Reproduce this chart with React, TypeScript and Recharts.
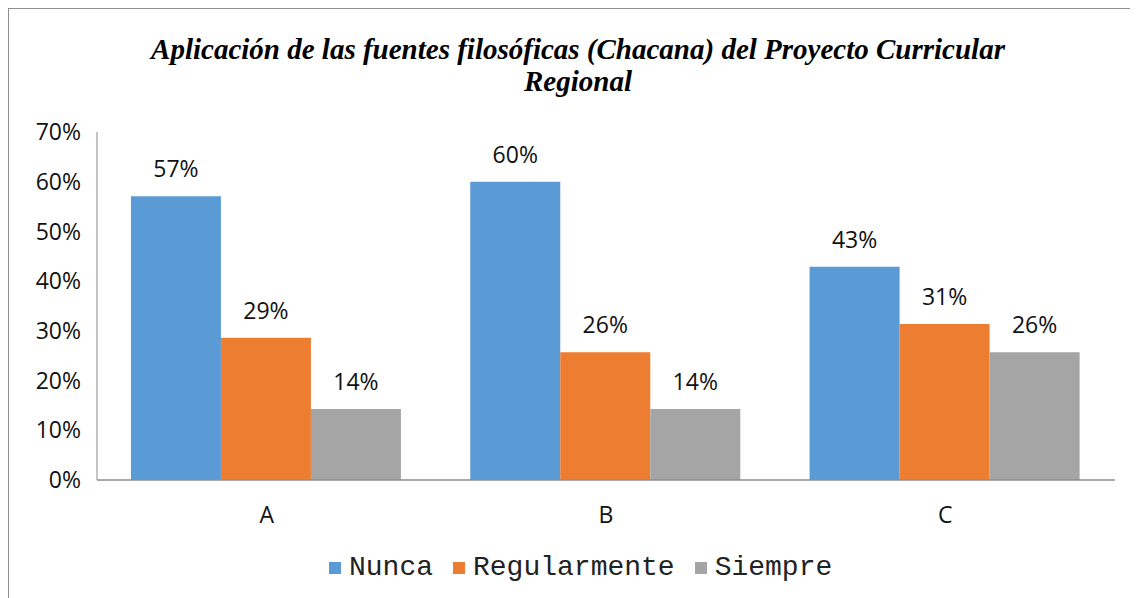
import { BarChart, Bar, XAxis, YAxis, LabelList } from "recharts";

const categories = ["A", "B", "C"];
const nunca = [57.1, 60.0, 42.9];
const regularmente = [28.6, 25.7, 31.4];
const siempre = [14.3, 14.3, 25.7];
const yTicks = [0, 10, 20, 30, 40, 50, 60, 70];

const series = [
  { key: "nunca", name: "Nunca", color: "#5B9BD5" },
  { key: "regularmente", name: "Regularmente", color: "#ED7D31" },
  { key: "siempre", name: "Siempre", color: "#A5A5A5" },
];

const data = categories.map((c, i) => ({
  category: c,
  nunca: nunca[i],
  regularmente: regularmente[i],
  siempre: siempre[i],
}));

const labelFont = "'Open Sans', 'Noto Sans', sans-serif";

export default function App() {
  return (
    <div style={{ position: "relative", width: 1129, height: 589, borderTop: "1px solid #8f8f8f", borderLeft: "1px solid #8f8f8f", background: "#fff" }}>
      <div
        style={{
          position: "absolute",
          left: 0,
          top: 24,
          width: 1138,
          textAlign: "center",
          fontFamily: "Liberation Serif",
          fontStyle: "italic",
          fontWeight: "bold",
          fontSize: 29,
          lineHeight: "32px",
          color: "#000",
        }}
      >
        Aplicación de las fuentes filosóficas (Chacana) del Proyecto Curricular
        <br />
        Regional
      </div>
      <BarChart
        width={1129}
        height={589}
        data={data}
        margin={{ top: 123, right: 23, bottom: 88, left: 0 }}
        barCategoryGap="10%"
        barGap={0}
      >
        <XAxis
          dataKey="category"
          height={30}
          axisLine={{ stroke: "#8c8c8c", strokeWidth: 1.5 }}
          tickLine={false}
          tickSize={0}
          tickMargin={27}
          tick={{ fill: "#111", fontSize: 23, fontFamily: labelFont }}
        />
        <YAxis
          width={88}
          domain={[0, 70]}
          ticks={yTicks}
          interval={0}
          tickFormatter={(v) => `${v}%`}
          axisLine={{ stroke: "#b0b0b0", strokeWidth: 1.5 }}
          tickLine={false}
          tickSize={0}
          tickMargin={16}
          tick={{ fill: "#111", fontSize: 23, fontFamily: labelFont }}
        />
        {series.map((s) => (
          <Bar key={s.key} dataKey={s.key} name={s.name} fill={s.color} isAnimationActive={false}>
            <LabelList
              dataKey={s.key}
              position="top"
              offset={19}
              formatter={(v: number) => `${Math.round(v)}%`}
              style={{ fill: "#111", fontSize: 23, fontFamily: labelFont }}
            />
          </Bar>
        ))}
      </BarChart>
      {/* legend kept outside the chart so it doesn't shrink the plot */}
      <div
        style={{
          position: "absolute",
          left: 320,
          top: 543,
          display: "flex",
          alignItems: "center",
          fontFamily: "Liberation Mono",
          fontSize: 28,
          color: "#222",
        }}
      >
        {series.map((s) => (
          <div key={s.key} style={{ display: "flex", alignItems: "center", marginRight: 20 }}>
            <span style={{ display: "inline-block", width: 12, height: 12, background: s.color, marginRight: 8 }} />
            <span>{s.name}</span>
          </div>
        ))}
      </div>
    </div>
  );
}
